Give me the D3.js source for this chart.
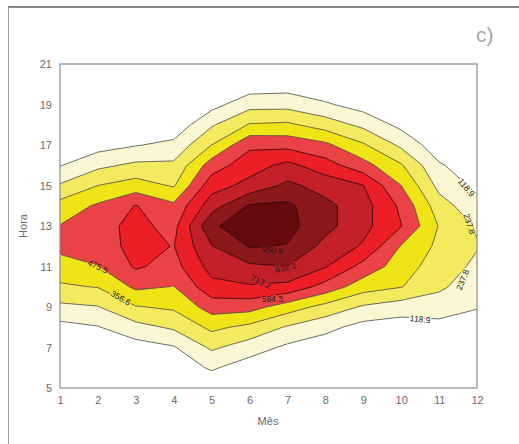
<!DOCTYPE html>
<html lang="pt">
<head>
<meta charset="UTF-8">
<title>Hora x Mês</title>
<script src="https://d3js.org/d3.v7.min.js"></script>
<style>
  body { margin: 0; background: #fff; }
  svg { display: block; font-family: "Liberation Sans", Arial, sans-serif; }
  .axis text { font-size: 11px; fill: #6a6a6a; }
  .axis path, .axis line { display: none; }
  .rotulo { font-size: 8.5px; fill: #1a1a1a; }
</style>
</head>
<body>
<div id="chart"></div>
<script>
// eixos
const meses = [1, 2, 3, 4, 5, 6, 7, 8, 9, 10, 11, 12];
const horas = [5, 6, 7, 8, 9, 10, 11, 12, 13, 14, 15, 16, 17, 18, 19, 20, 21];
const horaTicks = [5, 7, 9, 11, 13, 15, 17, 19, 21];
const niveis = [118.9, 237.8, 356.6, 475.5, 594.3, 713.2, 832.1, 950.9];

// valores por mês, da hora 5 até a hora 21
const mes1  = [10, 20, 40, 79, 212, 340, 424, 510, 480, 402, 250, 112, 60, 30, 15, 5, 0];
const mes2  = [15, 30, 60, 112, 232, 362, 472, 530, 552, 493, 357, 210, 70, 35, 15, 5, 0];
const mes3  = [15, 35, 67, 198, 349, 499, 610, 636, 628, 600, 410, 262, 112, 50, 20, 8, 0];
const mes4  = [20, 45, 108, 256, 376, 472, 550, 590, 555, 501, 345, 262, 150, 35, 12, 4, 0];
const mes5  = [25, 135, 257, 384, 528, 676, 759, 826, 935, 779, 664, 535, 357, 223, 77, 25, 5];
const mes6  = [35, 55, 178, 325, 523, 701, 811, 960, 1010, 965, 749, 661, 571, 366, 195, 47, 10];
const mes7  = [20, 50, 95, 225, 416, 679, 830, 945, 990, 975, 859, 746, 557, 378, 196, 60, 12];
const mes8  = [10, 30, 50, 154, 317, 550, 721, 795, 870, 865, 785, 645, 502, 302, 135, 20, 5];
const mes9  = [5, 15, 35, 77, 222, 411, 555, 700, 750, 760, 716, 520, 372, 208, 67, 20, 5];
const mes10 = [3, 8, 25, 60, 177, 362, 415, 468, 598, 570, 476, 368, 213, 86, 35, 10, 3];
const mes11 = [2, 5, 15, 75, 181, 258, 295, 330, 350, 290, 203, 133, 45, 15, 5, 2, 0];
const mes12 = [0, 2, 8, 70, 125, 175, 215, 245, 225, 160, 90, 45, 15, 5, 2, 0, 0];

const colunas = [mes1, mes2, mes3, mes4, mes5, mes6, mes7, mes8, mes9, mes10, mes11, mes12];
const cores = ['#fbf7d3', '#f4ea60', '#f0e316', '#eb4245', '#ec1f26', '#c3202a', '#8c181c', '#660b0d'];

// rótulos das curvas (posição em mês / hora, ângulo)
const rotulos = [
  { t: '475.5', m: 2.0, h: 11.0, a: 24 },
  { t: '356.6', m: 2.6, h: 9.45, a: 30 },
  { t: '950.9', m: 6.6, h: 11.8, a: 4 },
  { t: '832.1', m: 6.95, h: 10.95, a: -12 },
  { t: '713.2', m: 6.3, h: 10.25, a: 25 },
  { t: '594.3', m: 6.6, h: 9.4, a: 0 },
  { t: '118.9', m: 10.5, h: 8.4, a: 6 },
  { t: '237.8', m: 11.62, h: 10.35, a: -68 },
  { t: '118.9', m: 11.72, h: 14.9, a: 50 },
  { t: '237.8', m: 11.8, h: 13.1, a: 72 }
];

const W = 519, H = 444;
const x = d3.scaleLinear().domain([1, 12]).range([60, 477]);
const y = d3.scaleLinear().domain([5, 21]).range([388, 64]);

const svg = d3.select('#chart').append('svg')
  .attr('width', W).attr('height', H);

// moldura externa
svg.append('line').attr('x1', 8).attr('x2', W).attr('y1', 7).attr('y2', 7)
  .attr('stroke', '#858585').attr('stroke-width', 2);
svg.append('line').attr('x1', 8.5).attr('x2', 8.5).attr('y1', 7).attr('y2', H)
  .attr('stroke', '#9a9a9a').attr('stroke-width', 1);

svg.append('text').attr('x', 476).attr('y', 42)
  .attr('font-size', 21).attr('fill', '#a6a6a6').text('c)');

// grade de valores: índice = mês + hora * 12
const nx = meses.length, ny = horas.length;
const grade = new Array(nx * ny);
colunas.forEach((col, i) => col.forEach((v, j) => { grade[i + j * nx] = v; }));

const contornos = d3.contours().size([nx, ny]).thresholds(niveis)(grade);

// célula (i, j) fica em (i + 0.5, j + 0.5)
const proj = d3.geoTransform({
  point(px, py) {
    this.stream.point(x(meses[0] + px - 0.5), y(horas[0] + py - 0.5));
  }
});
const path = d3.geoPath(proj);

const defs = svg.append('defs');
defs.append('clipPath').attr('id', 'area')
  .append('rect')
  .attr('x', x(1)).attr('y', y(21))
  .attr('width', x(12) - x(1)).attr('height', y(5) - y(21));

// máscara que abre as linhas sob os rótulos
const mascara = defs.append('mask').attr('id', 'gaps')
  .attr('maskUnits', 'userSpaceOnUse')
  .attr('x', 0).attr('y', 0).attr('width', W).attr('height', H);
mascara.append('rect').attr('width', W).attr('height', H).attr('fill', 'white');
mascara.selectAll('text')
  .data(rotulos)
  .join('text')
  .attr('class', 'rotulo')
  .attr('text-anchor', 'middle')
  .attr('dy', '0.35em')
  .attr('transform', d => `translate(${x(d.m)},${y(d.h)}) rotate(${d.a})`)
  .attr('fill', 'black').attr('stroke', 'black').attr('stroke-width', 3)
  .text(d => d.t);

const plot = svg.append('g').attr('clip-path', 'url(#area)');

plot.selectAll('path.faixa')
  .data(contornos)
  .join('path')
  .attr('class', 'faixa')
  .attr('d', path)
  .attr('fill', (d, i) => cores[i]);

plot.append('g').attr('mask', 'url(#gaps)')
  .selectAll('path.linha')
  .data(contornos)
  .join('path')
  .attr('class', 'linha')
  .attr('d', path)
  .attr('fill', 'none')
  .attr('stroke', (d, i) => i < 4 ? '#4a4a4a' : '#2a0808')
  .attr('stroke-width', 0.8);

plot.selectAll('text.rotulo')
  .data(rotulos)
  .join('text')
  .attr('class', 'rotulo')
  .attr('text-anchor', 'middle')
  .attr('dy', '0.35em')
  .attr('transform', d => `translate(${x(d.m)},${y(d.h)}) rotate(${d.a})`)
  .text(d => d.t);

// moldura do gráfico
svg.append('rect')
  .attr('x', x(1)).attr('y', y(21))
  .attr('width', x(12) - x(1)).attr('height', y(5) - y(21))
  .attr('fill', 'none').attr('stroke', '#8c8c8c').attr('stroke-width', 1.2);

svg.append('g').attr('class', 'axis')
  .attr('transform', `translate(0,${y(5)})`)
  .call(d3.axisBottom(x).tickValues(meses).tickSize(0).tickPadding(8).tickFormat(d3.format('d')));

svg.append('g').attr('class', 'axis')
  .attr('transform', `translate(${x(1)},0)`)
  .call(d3.axisLeft(y).tickValues(horaTicks).tickSize(0).tickPadding(8).tickFormat(d3.format('d')));

svg.append('text').attr('x', 268).attr('y', 425)
  .attr('text-anchor', 'middle').attr('font-size', 11).attr('fill', '#6a6a6a')
  .text('Mês');

svg.append('text')
  .attr('transform', `translate(27,${y(13)}) rotate(-90)`)
  .attr('text-anchor', 'middle').attr('font-size', 11).attr('fill', '#6a6a6a')
  .text('Hora');
</script>
</body>
</html>
